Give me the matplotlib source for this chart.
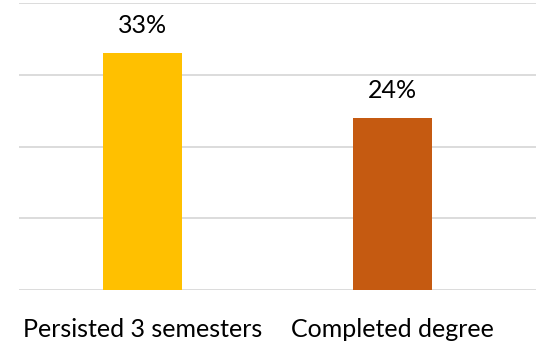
import numpy as np
import matplotlib.pyplot as plt

# data
categories = ['Persisted 3 semesters', 'Completed degree']
values = [33, 24]
bar_colors = ['#FFC000', '#C55A11']

fig = plt.figure(figsize=(5.36, 3.41), dpi=100)
ax = fig.add_axes([19/536, 51/341, 517/536, 287/341])

x = np.arange(len(categories))
ax.bar(x, values, width=0.316, color=bar_colors, zorder=3)

ax.set_ylim(0, 40)
ax.set_xlim(-0.494, 1.574)
ax.set_yticks([0, 10, 20, 30, 40])
ax.yaxis.grid(True, color='#D9D9D9', linewidth=1.3, zorder=0)
ax.tick_params(axis='y', left=False, labelleft=False)
ax.tick_params(axis='x', bottom=False, pad=17)
for s in ax.spines.values():
    s.set_visible(False)

ax.set_xticks(x)
ax.set_xticklabels(categories, fontsize=18, family='Lato')

# value labels above bars
for xi, v in zip(x, values):
    ax.annotate(f'{v}%', (xi, v), xytext=(0, 14.5), textcoords='offset points',
                ha='center', va='baseline', fontsize=18, family='Lato')

fig.savefig('out.png', dpi=100)
